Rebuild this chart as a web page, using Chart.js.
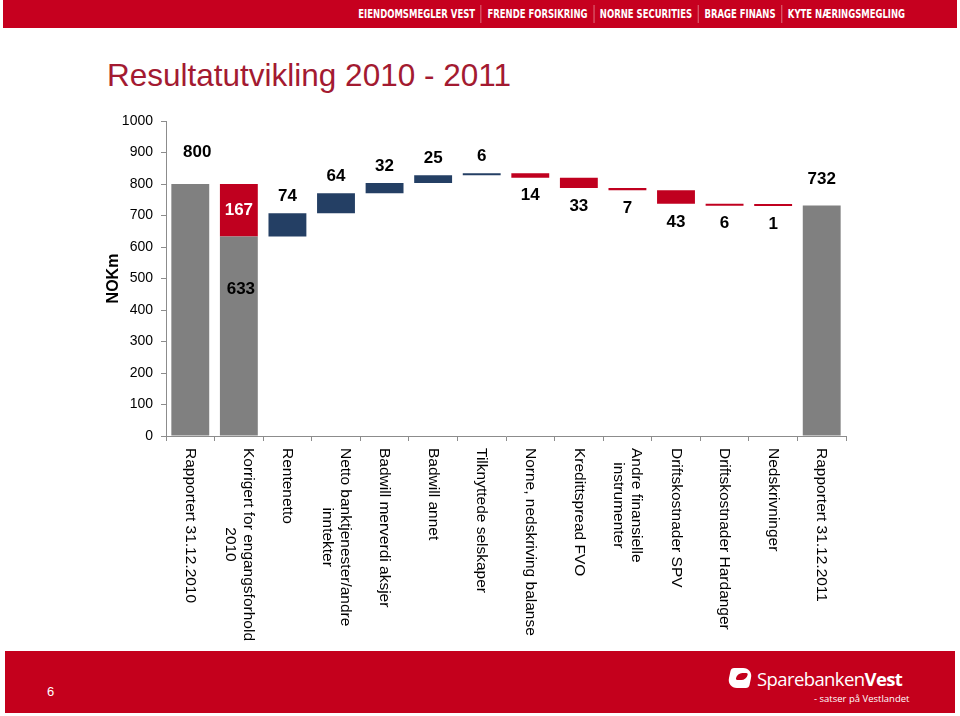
<!DOCTYPE html>
<html>
<head>
<meta charset="utf-8">
<script src="https://cdn.jsdelivr.net/npm/chart.js@4.4.1/dist/chart.umd.min.js"></script>
<style>
  html, body { margin: 0; padding: 0; background: #fff; }
  body { width: 960px; height: 716px; position: relative; overflow: hidden; font-family: Arial, "Liberation Sans", sans-serif; }
  #topbar { position: absolute; left: 3px; top: 0; width: 954px; height: 28px; background: #c6001f; }
  #topbar .items { position: absolute; right: 46px; top: 0; height: 28px; display: flex; align-items: center;
    transform: scaleX(0.82); transform-origin: right center;
    font-family: "Liberation Sans Narrow", "DejaVu Sans Condensed", sans-serif; font-weight: bold; font-size: 11.5px; color: #fff; }
  #topbar .items span { padding: 0 7px; border-left: 1px solid #e58a95; line-height: 18px; }
  #topbar .items span:first-child { border-left: none; }
  #title { position: absolute; left: 107px; top: 57px; font-size: 31.5px; color: #a31a31; white-space: nowrap; }
  #footer { position: absolute; left: 5px; top: 651px; width: 950px; height: 62px; background: #c4001c; color: #fff; }
  #pageno { position: absolute; left: 42px; top: 33px; font-size: 13px; }
  #logo { position: absolute; left: 722px; top: 16px; width: 190px; height: 44px; }
  #logo .mark { position: absolute; left: 2px; top: 1px; width: 22px; height: 20px; background: #fff; border-radius: 3px 10px 3px 10px; transform: skewX(-12deg); }
  #logo .mark i { position: absolute; left: 7px; top: 5px; width: 11px; height: 7px; background: #c4001c; border-radius: 6px 2px 6px 2px; }
  #logo .name { position: absolute; left: 30px; top: 0; font-family: "Open Sans", sans-serif; font-size: 18.5px; letter-spacing: -0.6px; white-space: nowrap; line-height: 24px; }
  #logo .name b { font-weight: 700; }
  #logo .tag { position: absolute; left: 87px; top: 25px; font-family: "Open Sans", sans-serif; font-size: 9.5px; white-space: nowrap; }
  #chartWrap { position: absolute; left: 0; top: 0; width: 960px; height: 716px; }
</style>
</head>
<body>
<div id="topbar"><div class="items">
  <span>EIENDOMSMEGLER VEST</span><span>FRENDE FORSIKRING</span><span>NORNE SECURITIES</span><span>BRAGE FINANS</span><span>KYTE NÆRINGSMEGLING</span>
</div></div>
<div id="title">Resultatutvikling 2010 - 2011</div>
<div id="footer">
  <div id="pageno">6</div>
  <div id="logo"><div class="mark"><i></i></div><div class="name">Sparebanken<b>Vest</b></div><div class="tag">- satser på Vestlandet</div></div>
</div>
<div id="chartWrap"><canvas id="waterfall" width="960" height="716"></canvas></div>
<script>
const categories = [
  'Rapportert 31.12.2010',
  ['Korrigert for engangsforhold', '2010'],
  'Rentenetto',
  ['Netto banktjenester/andre', 'inntekter'],
  'Badwill merverdi aksjer',
  'Badwill annet',
  'Tilknyttede selskaper',
  'Norne, nedskriving balanse',
  'Kredittspread FVO',
  ['Andre finansielle', 'instrumenter'],
  'Driftskostnader SPV',
  'Driftskostnader Hardanger',
  'Nedskrivninger',
  'Rapportert 31.12.2011'
];
const totals = [800, 633, null, null, null, null, null, null, null, null, null, null, null, 732];
const changes = [null, -167, 74, 64, 32, 25, 6, -14, -33, -7, -43, -6, -1, null];
const valueLabels = ['800', '167', '74', '64', '32', '25', '6', '14', '33', '7', '43', '6', '1', '732'];
const yTicks = [0, 100, 200, 300, 400, 500, 600, 700, 800, 900, 1000];

let grey = '#808080'
let red = '#c0001f'
let blue = '#243f64'

// floating ranges for the change bars
let running = totals[0];
const changeRanges = changes.map(function(c) {
  if (c === null) return null;
  let from = running;
  running = running + c;
  return [Math.min(from, running), Math.max(from, running)];
});
const totalRanges = totals.map(t => t === null ? null : [0, t]);
const changeColors = changes.map(c => c === null ? 'transparent' : c < 0 ? red : blue);

const valueLabelPlugin = {
  id: 'valueLabels',
  afterDatasetsDraw(chart) {
    const ctx = chart.ctx;
    const x = chart.scales.x;
    const y = chart.scales.y;
    ctx.save();
    ctx.font = 'bold 17px Arial, "Liberation Sans", sans-serif';
    ctx.textAlign = 'center';
    ctx.textBaseline = 'middle';
    for (let i = 0; i < categories.length; i++) {
      let cx = x.getPixelForValue(i);
      ctx.fillStyle = '#000';
      if (i === 0) {
        ctx.fillText(valueLabels[i], cx + 7, y.getPixelForValue(totals[i]) - 32);
      } else if (i === categories.length - 1) {
        ctx.fillText(valueLabels[i], cx, y.getPixelForValue(totals[i]) - 26);
      } else if (i === 1) {
        let r = changeRanges[i];
        ctx.fillStyle = '#fff';
        ctx.fillText(valueLabels[i], cx, y.getPixelForValue((r[0] + r[1]) / 2));
        ctx.fillStyle = '#000';
        ctx.fillText(String(totals[i]), cx + 2, y.getPixelForValue(totals[i]) + 53);
      } else {
        let r = changeRanges[i];
        if (changes[i] > 0) {
          ctx.fillText(valueLabels[i], cx, y.getPixelForValue(r[1]) - 17);
        } else {
          ctx.fillText(valueLabels[i], cx, y.getPixelForValue(r[0]) + 18);
        }
      }
    }
    ctx.restore();
  }
};

// category names read top to bottom, like the original slide
const categoryLabelPlugin = {
  id: 'categoryLabels',
  afterDraw(chart) {
    const ctx = chart.ctx;
    const x = chart.scales.x;
    const top = chart.chartArea.bottom + 12;
    ctx.save();
    ctx.font = '15.5px Arial, "Liberation Sans", sans-serif';
    ctx.fillStyle = '#000';
    ctx.textBaseline = 'middle';
    for (let i = 0; i < categories.length; i++) {
      let lines = Array.isArray(categories[i]) ? categories[i] : [categories[i]];
      let widths = lines.map(l => ctx.measureText(l).width);
      let maxW = Math.max(...widths);
      ctx.save();
      ctx.translate(x.getPixelForValue(i), top);
      ctx.rotate(Math.PI / 2);
      for (let k = 0; k < lines.length; k++) {
        let off = (k - (lines.length - 1) / 2) * 18;
        if (lines.length === 1) {
          ctx.textAlign = 'left';
          ctx.fillText(lines[k], 0, off);
        } else {
          ctx.textAlign = 'center';
          ctx.fillText(lines[k], maxW / 2, off);
        }
      }
      ctx.restore();
    }
    ctx.restore();
  }
};

const ctx = document.getElementById('waterfall');
const waterfallChart = new Chart(ctx, {
  type: 'bar',
  data: {
    labels: categories,
    datasets: [
      {
        label: 'Total',
        data: totalRanges,
        backgroundColor: grey,
        grouped: false,
        barPercentage: 0.78,
        categoryPercentage: 1
      },
      {
        label: 'Endring',
        data: changeRanges,
        backgroundColor: changeColors,
        grouped: false,
        minBarLength: 2,
        barPercentage: 0.78,
        categoryPercentage: 1
      }
    ]
  },
  options: {
    responsive: false,
    animation: false,
    layout: {
      padding: { left: 104, top: 121, right: 114, bottom: 0 }
    },
    scales: {
      x: {
        afterFit: function(scale) { scale.height = 280; },
        grid: {
          offset: true,
          drawOnChartArea: false,
          drawTicks: true,
          tickLength: 5,
          color: '#8c8c8c'
        },
        border: { display: true, color: '#8c8c8c' },
        ticks: { display: false }
      },
      y: {
        min: 0,
        max: 1000,
        afterFit: function(scale) { scale.width = 62; },
        afterBuildTicks: function(scale) { scale.ticks = yTicks.map(v => ({ value: v })); },
        grid: {
          drawOnChartArea: false,
          drawTicks: true,
          tickLength: 5,
          color: '#8c8c8c'
        },
        border: { display: true, color: '#8c8c8c' },
        ticks: {
          color: '#000',
          padding: 8,
          font: { family: 'Arial, "Liberation Sans", sans-serif', size: 14 },
          callback: function(value) { return String(value); }
        },
        title: {
          display: true,
          text: 'NOKm',
          color: '#000',
          padding: 0,
          font: { family: 'Arial, "Liberation Sans", sans-serif', size: 16, weight: 'bold' }
        }
      }
    },
    plugins: {
      legend: { display: false },
      tooltip: { enabled: false }
    }
  },
  plugins: [valueLabelPlugin, categoryLabelPlugin]
});
</script>
</body>
</html>
